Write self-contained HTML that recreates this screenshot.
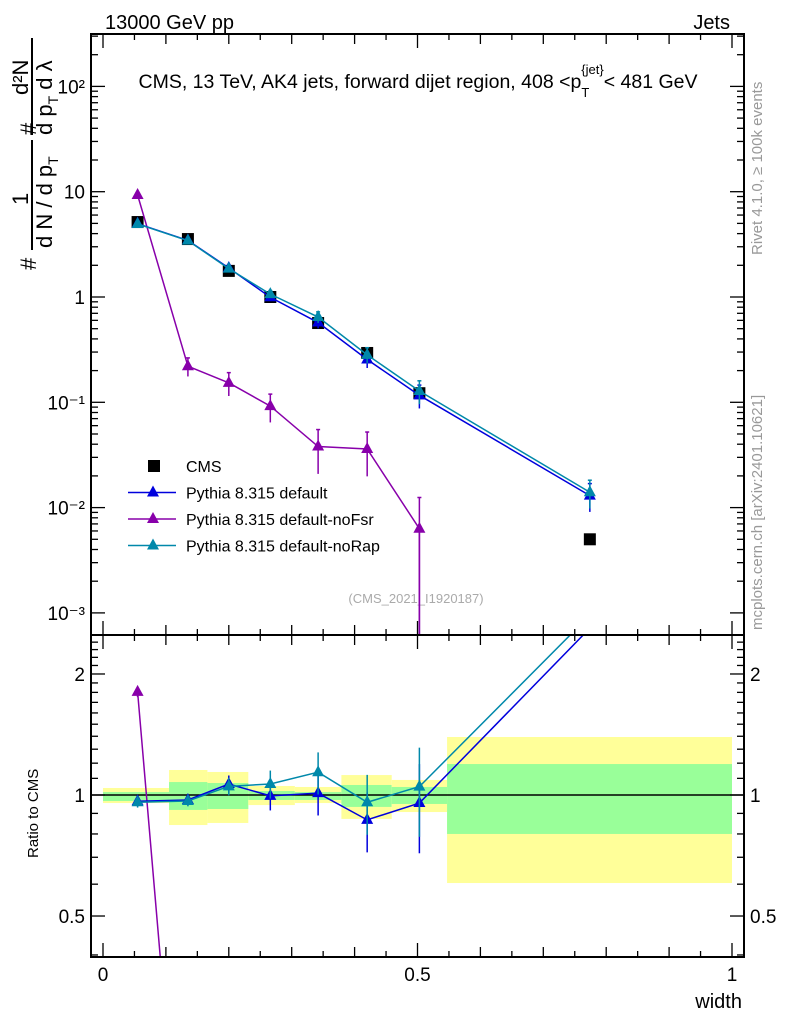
<!DOCTYPE html>
<html><head><meta charset="utf-8"><style>
html,body{margin:0;background:#fff;overflow:hidden;width:786px;height:1024px}
svg{display:block}
svg text{font-family:"Liberation Sans",sans-serif}
</style></head><body>
<svg id="c" width="786" height="1024" viewBox="0 0 786 1024" xmlns="http://www.w3.org/2000/svg">
<text x="105" y="29" font-size="20">13000 GeV pp</text>
<text x="730" y="29" font-size="20" text-anchor="end">Jets</text>
<text x="418" y="88" font-size="19.5" text-anchor="middle">CMS, 13 TeV, AK4 jets, forward dijet region, 408 &lt;p<tspan dy="9" font-size="13">T</tspan><tspan dy="-23" dx="-8" font-size="13">{jet}</tspan><tspan dy="14">&lt; 481 GeV</tspan></text>
<text transform="translate(762,255) rotate(-90)" font-size="15" fill="#999">Rivet 4.1.0, ≥ 100k events</text>
<text transform="translate(762,630) rotate(-90)" font-size="15" fill="#999">mcplots.cern.ch [arXiv:2401.10621]</text>
<g font-size="22">
<text transform="translate(36,270) rotate(-90)">#</text>
<text transform="translate(28,205) rotate(-90)">1</text>
<line x1="32" x2="32" y1="250" y2="140" stroke="#000" stroke-width="2"/>
<text transform="translate(52,248) rotate(-90)">d N / d p<tspan font-size="14" dy="6">T</tspan></text>
<text transform="translate(36,135) rotate(-90)">#</text>
<text transform="translate(28,95) rotate(-90)">d²N</text>
<line x1="32" x2="32" y1="135" y2="38" stroke="#000" stroke-width="2"/>
<text transform="translate(52,135) rotate(-90)">d p<tspan font-size="14" dy="6">T</tspan><tspan dy="-6"> d λ</tspan></text>
</g>
<text transform="translate(38,858) rotate(-90)" font-size="15">Ratio to CMS</text>
<text x="742" y="1008" font-size="20" text-anchor="end">width</text>
<text x="416" y="603" font-size="13" fill="#aaa" text-anchor="middle">(CMS_2021_I1920187)</text>
<g id="g"></g>
</svg>
<script>
const xVals=[0.055,0.135,0.2,0.266,0.342,0.42,0.503,0.774];
const cms=[5.15,3.55,1.77,1.0,0.566,0.294,0.122,0.005];
const pyDefault=[4.97,3.45,1.885,0.995,0.572,0.255,0.1165,0.013];
const pyDefaultErr=[0.03,0.03,0.05,0.08,0.12,0.17,0.25,0.3];
const pyNoFsr=[9.3,0.22,0.153,0.092,0.038,0.036,0.0063,0];
const pyNoFsrErr=[0.03,0.2,0.25,0.3,0.45,0.45,0.98,0];
const pyNoRap=[4.94,3.43,1.86,1.065,0.645,0.282,0.128,0.014];
const pyNoRapErr=[0.03,0.03,0.05,0.08,0.12,0.17,0.25,0.3];
const binEdges=[0,0.105,0.166,0.231,0.305,0.379,0.459,0.547,1.0];
const yellowHi=[1.041,1.154,1.141,1.053,1.047,1.121,1.090,1.394];
const yellowLo=[0.955,0.842,0.852,0.944,0.955,0.872,0.907,0.604];
const greenHi=[1.017,1.077,1.071,1.023,1.017,1.059,1.047,1.194];
const greenLo=[0.966,0.918,0.923,0.972,0.972,0.934,0.950,0.800];
const mainTicks=["10⁻³","10⁻²","10⁻¹","1","10","10²"];
const ratioTicks=[0.5,1,2];
const xTicks=[0,0.5,1];

const L=91,R=744,T=34,M=635,B=957;
const X=v=>103+v*629;
const Y=v=>297-Math.log10(v)*105.3;
const RY=v=>795-Math.log10(v)*402;
const g=document.getElementById('g');
const NS='http://www.w3.org/2000/svg';
function mk(tag,attrs,parent){const e=document.createElementNS(NS,tag);for(const k in attrs)e.setAttribute(k,attrs[k]);(parent||g).appendChild(e);return e;}

const defs=mk('defs',{});
const c1=mk('clipPath',{id:'cm'},defs);mk('rect',{x:L,y:T,width:R-L,height:M-T},c1);
const c2=mk('clipPath',{id:'cr'},defs);mk('rect',{x:L,y:M,width:R-L,height:B-M},c2);
const gm=mk('g',{'clip-path':'url(#cm)'});
const gr=mk('g',{'clip-path':'url(#cr)'});

for(let i=0;i<binEdges.length-1;i++){
  const y=mk('rect',{x:X(binEdges[i]),y:RY(yellowHi[i]),width:X(binEdges[i+1])-X(binEdges[i]),height:RY(yellowLo[i])-RY(yellowHi[i]),fill:'#ffff99'},gr);
  
  
  const gn=mk('rect',{x:X(binEdges[i]),y:RY(greenHi[i]),width:X(binEdges[i+1])-X(binEdges[i]),height:RY(greenLo[i])-RY(greenHi[i]),fill:'#99ff99'},gr);
  
  
}
mk('line',{x1:L,x2:R,y1:RY(1),y2:RY(1),stroke:'#000','stroke-width':1.5},gr);

mk('rect',{x:L,y:T,width:R-L,height:M-T,fill:'none',stroke:'#000','stroke-width':2});
mk('rect',{x:L,y:M,width:R-L,height:B-M,fill:'none',stroke:'#000','stroke-width':2});

for(let d=-3;d<=2;d++){
  for(let m=1;m<10;m++){
    const v=m*Math.pow(10,d);const y=Y(v);
    if(y<T||y>M)continue;
    const len=m==1?14:7;
    mk('line',{x1:L,x2:L+len,y1:y,y2:y,stroke:'#000','stroke-width':1.3});
    mk('line',{x1:R,x2:R-len,y1:y,y2:y,stroke:'#000','stroke-width':1.3});
  }
  const t=mk('text',{x:L-6,y:Y(Math.pow(10,d))+7,'font-size':19,'text-anchor':'end'});
  t.textContent=mainTicks[d+3];
  
  
}
for(let v=0.4;v<=2.5;v+=0.1){
  const y=RY(v);if(y<M||y>B)continue;
  const maj=Math.abs(v-0.5)<1e-6||Math.abs(v-1)<1e-6||Math.abs(v-2)<1e-6;
  const len=maj?14:7;
  mk('line',{x1:L,x2:L+len,y1:y,y2:y,stroke:'#000','stroke-width':1.3});
  mk('line',{x1:R,x2:R-len,y1:y,y2:y,stroke:'#000','stroke-width':1.3});
}
ratioTicks.forEach(v=>{
  const t=mk('text',{x:L-6,y:RY(v)+7,'font-size':19,'text-anchor':'end'});t.textContent=v;
  
  
  const t2=mk('text',{x:R+6,y:RY(v)+7,'font-size':19});t2.textContent=v;
  
  
});
for(let k=0;k<=20;k++){
  const v=k/20;
  const len=k%10==0?14:(k%2==0?10:6);
  const x=X(v);
  [[T,1],[M,-1],[M,1],[B,-1]].forEach(([y,s])=>mk('line',{x1:x,x2:x,y1:y,y2:y+s*len,stroke:'#000','stroke-width':1.3}));
}
xTicks.forEach(v=>{const t=mk('text',{x:X(v),y:B+24,'font-size':19,'text-anchor':'middle'});t.textContent=v;
  
  });

function tri(p,x,y,col,name){const t=mk('path',{d:`M${x},${y-7}L${x+6},${y+4}L${x-6},${y+4}Z`,fill:col},p);
  
  }
function series(vals,errs,col,name){
  let pts=[];
  for(let i=0;i<vals.length;i++){
    if(vals[i]>0)pts.push([X(xVals[i]),Y(vals[i])]);
    else{pts.push([pts[pts.length-1][0],M+50]);break;}
  }
  const l=mk('polyline',{points:pts.map(p=>p.join(',')).join(' '),fill:'none',stroke:col,'stroke-width':1.5},gm);
  
  
  vals.forEach((v,i)=>{if(v<=0)return;const x=X(xVals[i]);const e=errs[i];
    const lo=v*(1-e),hi=v*(1+e);
    mk('line',{x1:x,x2:x,y1:Y(hi),y2:lo>0?Y(lo):M+10,stroke:col,'stroke-width':1.5},gm);
    mk('line',{x1:x-2,x2:x+2,y1:Y(hi),y2:Y(hi),stroke:col,'stroke-width':1.5},gm);
    tri(gm,x,Y(v),col,name+'-point');});
  let rp=[];
  for(let i=0;i<vals.length;i++){if(vals[i]<=0)break;rp.push([X(xVals[i]),RY(vals[i]/cms[i])]);}
  const rl=mk('polyline',{points:rp.map(p=>p.join(',')).join(' '),fill:'none',stroke:col,'stroke-width':1.5},gr);
  
  
  vals.forEach((v,i)=>{if(v<=0)return;const r=v/cms[i],x=X(xVals[i]),e=errs[i];
    if(r>2.5)return;
    mk('line',{x1:x,x2:x,y1:RY(r*(1+e)),y2:RY(r*(1-e)),stroke:col,'stroke-width':1.5},gr);
    tri(gr,x,RY(r),col,name+'-ratio-point');});
}
cms.forEach((v,i)=>{const r=mk('rect',{x:X(xVals[i])-6,y:Y(v)-6,width:12,height:12,fill:'#000'},gm);
  
  });
series(pyNoFsr,pyNoFsrErr,'#8800aa','pythia-nofsr');
series(pyDefault,pyDefaultErr,'#0000dd','pythia-default');
series(pyNoRap,pyNoRapErr,'#0088aa','pythia-norap');

const leg=[['CMS','#000','sq'],['Pythia 8.315 default','#0000dd'],['Pythia 8.315 default-noFsr','#8800aa'],['Pythia 8.315 default-noRap','#0088aa']];
leg.forEach((e,i)=>{const y=466+i*26.5;
  const lg=mk('g',{});
  
  
  if(e[2]){mk('rect',{x:148,y:y-6,width:12,height:12,fill:'#000'},lg);}
  else{mk('line',{x1:128,x2:176,y1:y,y2:y,stroke:e[1],'stroke-width':1.5},lg);tri(lg,153,y,e[1],'legend-marker');}
  const t=mk('text',{x:186,y:y+6,'font-size':16},lg);t.textContent=e[0];});
</script>
</body></html>
